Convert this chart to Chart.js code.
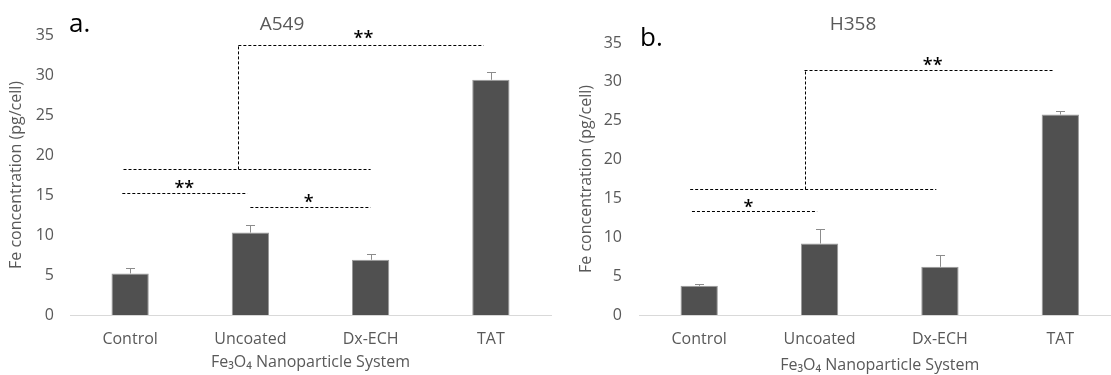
<!DOCTYPE html>
<html>
<head>
<meta charset="utf-8">
<script src="https://cdn.jsdelivr.net/npm/chart.js@4.4.0/dist/chart.umd.min.js"></script>
<style>
    html, body { margin: 0; padding: 0; background: #fff; }
    body { width: 1111px; height: 375px; overflow: hidden; position: relative; }
    .panel { position: absolute; top: 0; height: 375px; }
    #panel-a { left: 0; width: 560px; }
    #panel-b { left: 560px; width: 570px; }
</style>
</head>
<body>
<div class="panel" id="panel-a"><canvas id="chart-a" width="560" height="375"></canvas></div>
<div class="panel" id="panel-b"><canvas id="chart-b" width="570" height="375"></canvas></div>
<script>
const categories = ['Control', 'Uncoated', 'Dx-ECH', 'TAT'];
const yTicks = [0, 5, 10, 15, 20, 25, 30, 35];

// A549 (panel a)
const a549Values = [5.2, 10.3, 6.9, 29.4];
const a549Errors = [0.65, 1.0, 0.7, 1.0];
// dashed significance lines: [xFrom, yFrom, xTo, yTo] in category index / value units
const a549Lines = [
    [-0.055, 18.2, 2.0, 18.2],
    [0.9, 18.2, 0.9, 33.7],
    [0.9, 33.7, 2.94, 33.7],
    [-0.065, 15.25, 0.975, 15.25],
    [1.0, 13.55, 2.0, 13.55]
];
const a549Stars = [
    { x: 0.45, y: 16.3, text: '**' },
    { x: 1.485, y: 14.6, text: '*' },
    { x: 1.94, y: 35.1, text: '**' }
];

// H358 (panel b)
const h358Values = [3.75, 9.2, 6.2, 25.8];
const h358Errors = [0.2, 1.9, 1.5, 0.4];
const h358Lines = [
    [-0.06, 13.33, 0.98, 13.33],
    [-0.075, 16.15, 1.97, 16.15],
    [0.875, 16.15, 0.875, 31.5],
    [0.875, 31.5, 2.94, 31.5]
];
const h358Stars = [
    { x: 0.41, y: 14.4, text: '*' },
    { x: 1.94, y: 32.6, text: '**' }
];

const FONT = "'Open Sans', 'DejaVu Sans', sans-serif";
const GREY = '#595959';

// error bars (plus side only) and significance brackets
const annotations = {
    id: 'annotations',
    afterDatasetsDraw(chart, args, opts) {
        const { ctx, scales: { x, y } } = chart;
        const meta = chart.getDatasetMeta(0);
        ctx.save();

        ctx.strokeStyle = '#8c8c8c';
        ctx.lineWidth = 1;
        opts.values.forEach((v, i) => {
            const px = Math.round(meta.data[i].x) + 0.5;
            const top = Math.round(y.getPixelForValue(v + opts.errors[i])) + 0.5;
            const base = y.getPixelForValue(v);
            ctx.beginPath();
            ctx.moveTo(px, base);
            ctx.lineTo(px, top);
            ctx.moveTo(px - 4.5, top);
            ctx.lineTo(px + 4.5, top);
            ctx.stroke();
        });

        ctx.strokeStyle = '#000';
        ctx.setLineDash([3, 2]);
        opts.lines.forEach(([x1, y1, x2, y2]) => {
            let ax = x.getPixelForValue(x1), bx = x.getPixelForValue(x2);
            let ay = y.getPixelForValue(y1), by = y.getPixelForValue(y2);
            if (y1 === y2) { ay = by = Math.round(ay) + 0.5; }
            if (x1 === x2) { ax = bx = Math.round(ax) + 0.5; }
            ctx.beginPath();
            ctx.moveTo(ax, ay);
            ctx.lineTo(bx, by);
            ctx.stroke();
        });
        ctx.setLineDash([]);

        ctx.fillStyle = '#000';
        ctx.font = `600 18px ${FONT}`;
        ctx.textAlign = 'center';
        ctx.textBaseline = 'alphabetic';
        opts.stars.forEach(s => {
            const m = ctx.measureText(s.text);
            const cy = y.getPixelForValue(s.y) + (m.actualBoundingBoxAscent - m.actualBoundingBoxDescent) / 2;
            ctx.fillText(s.text, x.getPixelForValue(s.x), cy);
        });
        ctx.restore();
    }
};

// panel letter and cell line title
const panelText = {
    id: 'panelText',
    afterDraw(chart, args, opts) {
        const { ctx } = chart;
        ctx.save();
        ctx.textBaseline = 'alphabetic';
        ctx.textAlign = 'left';
        ctx.fillStyle = '#000';
        ctx.font = `26px ${FONT}`;
        ctx.fillText(opts.letter, opts.letterX, opts.letterY);
        ctx.textAlign = 'center';
        ctx.fillStyle = GREY;
        ctx.font = `19px ${FONT}`;
        ctx.fillText(opts.title, opts.titleX, opts.titleY);
        ctx.restore();
    }
};

const makeChart = (id, values, errors, lines, stars, cfg) => {
    const ctx = document.getElementById(id).getContext('2d');
    return new Chart(ctx, {
        type: 'bar',
        data: {
            labels: categories,
            datasets: [{
                data: values,
                backgroundColor: '#505050',
                borderColor: '#9a9a9a',
                borderWidth: 1,
                barPercentage: 0.31,
                categoryPercentage: 1
            }]
        },
        options: {
            responsive: false,
            animation: false,
            events: [],
            layout: { padding: { top: cfg.top, right: cfg.right, left: 0, bottom: 0 } },
            plugins: {
                legend: { display: false },
                tooltip: { enabled: false },
                annotations: { values, errors, lines, stars },
                panelText: cfg.text
            },
            scales: {
                x: {
                    grid: { display: false, drawTicks: false },
                    border: { display: true, color: '#d9d9d9', width: 1 },
                    ticks: { color: GREY, font: { family: FONT, size: 16 }, padding: 15 },
                    title: {
                        display: true,
                        text: 'Fe₃O₄ Nanoparticle System',
                        color: GREY,
                        font: { family: FONT, size: 16 },
                        padding: { top: 0, bottom: cfg.xTitlePad }
                    },
                    afterFit: s => { s.height = 60; }
                },
                y: {
                    min: 0,
                    max: 35,
                    afterBuildTicks: s => { s.ticks = yTicks.map(v => ({ value: v })); },
                    grid: { display: false, drawTicks: false },
                    border: { display: false },
                    ticks: { color: GREY, font: { family: FONT, size: 16 }, padding: cfg.yTickPad },
                    title: {
                        display: true,
                        text: 'Fe concentration (pg/cell)',
                        color: GREY,
                        font: { family: FONT, size: 16 },
                        padding: { top: cfg.yTitlePad, bottom: 0 }
                    },
                    afterFit: s => { s.width = cfg.yWidth; }
                }
            }
        },
        plugins: [annotations, panelText]
    });
};

makeChart('chart-a', a549Values, a549Errors, a549Lines, a549Stars, {
    top: 35, right: 9, yWidth: 70, yTickPad: 16, yTitlePad: 7, xTitlePad: 3,
    text: { letter: 'a.', letterX: 69, letterY: 32, title: 'A549', titleX: 282, titleY: 30 }
});

makeChart('chart-b', h358Values, h358Errors, h358Lines, h358Stars, {
    top: 43, right: 9.5, yWidth: 79, yTickPad: 17, yTitlePad: 17, xTitlePad: 0,
    text: { letter: 'b.', letterX: 80, letterY: 46, title: 'H358', titleX: 293, titleY: 30 }
});
</script>
</body>
</html>
